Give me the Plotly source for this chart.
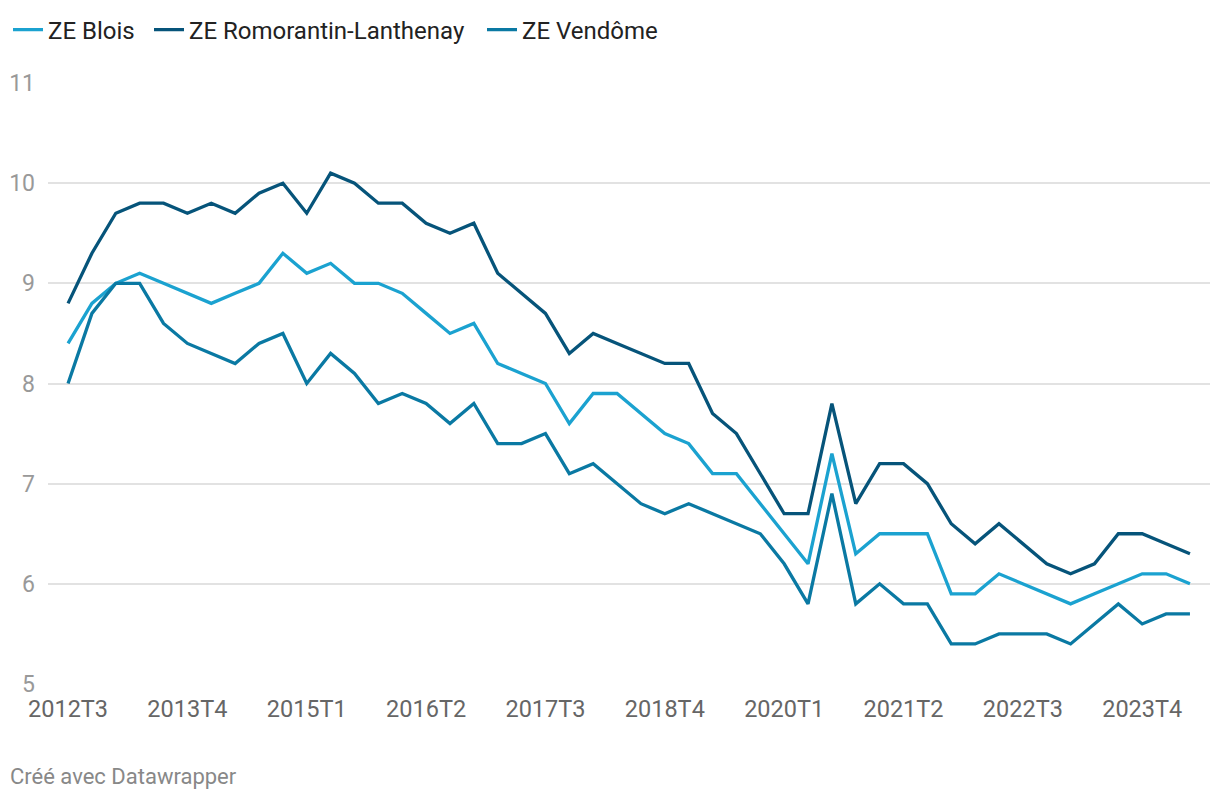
import plotly.graph_objects as go

# Quarters 2012T3 .. 2024T2
quarters = []
for y in range(2012, 2025):
    for q in range(1, 5):
        if (y == 2012 and q < 3) or (y == 2024 and q > 2):
            continue
        quarters.append(f"{y}T{q}")

blois = [8.4, 8.8, 9.0, 9.1, 9.0, 8.9, 8.8, 8.9, 9.0, 9.3, 9.1, 9.2,
         9.0, 9.0, 8.9, 8.7, 8.5, 8.6, 8.2, 8.1, 8.0, 7.6, 7.9,
         7.9, 7.7, 7.5, 7.4, 7.1, 7.1, 6.8, 6.5, 6.2, 7.3, 6.3,
         6.5, 6.5, 6.5, 5.9, 5.9, 6.1, 6.0, 5.9, 5.8, 5.9, 6.0, 6.1, 6.1, 6.0]
romorantin = [8.8, 9.3, 9.7, 9.8, 9.8, 9.7, 9.8, 9.7, 9.9, 10.0, 9.7, 10.1,
              10.0, 9.8, 9.8, 9.6, 9.5, 9.6, 9.1, 8.9, 8.7, 8.3, 8.5,
              8.4, 8.3, 8.2, 8.2, 7.7, 7.5, 7.1, 6.7, 6.7, 7.8, 6.8,
              7.2, 7.2, 7.0, 6.6, 6.4, 6.6, 6.4, 6.2, 6.1, 6.2, 6.5, 6.5, 6.4, 6.3]
vendome = [8.0, 8.7, 9.0, 9.0, 8.6, 8.4, 8.3, 8.2, 8.4, 8.5, 8.0, 8.3,
           8.1, 7.8, 7.9, 7.8, 7.6, 7.8, 7.4, 7.4, 7.5, 7.1, 7.2,
           7.0, 6.8, 6.7, 6.8, 6.7, 6.6, 6.5, 6.2, 5.8, 6.9, 5.8,
           6.0, 5.8, 5.8, 5.4, 5.4, 5.5, 5.5, 5.5, 5.4, 5.6, 5.8, 5.6, 5.7, 5.7]

series_names = ["ZE Blois", "ZE Romorantin-Lanthenay", "ZE Vendôme"]
series_values = [blois, romorantin, vendome]
colors = ["#1ba2d0", "#06547a", "#0a79a3"]
legend_ids = ["legend", "legend2", "legend3"]
legend_px = [10, 155, 488]  # left edge of each legend swatch (page pixels)

x_tick_labels = quarters[::5]
y_tick_values = [5, 6, 7, 8, 9, 10, 11]

W, H = 1220, 800
OFF = 8  # page body margin of the html
ML, MR, MT, MB = 40, 18, 75, 124
plot_left = OFF + ML
plot_w = W - ML - MR
plot_bottom = OFF + H - MB
plot_h = H - MT - MB

fig = go.Figure()
for name, vals, col, lg in zip(series_names, series_values, colors, legend_ids):
    fig.add_trace(go.Scatter(
        x=quarters, y=vals, mode="lines", name=name, legend=lg,
        line=dict(color=col, width=3.3), hoverinfo="x+y+name",
    ))

legend_common = dict(
    orientation="h", xref="container", xanchor="left",
    yref="container", y=1 - (30 - OFF) / H, yanchor="middle",
    font=dict(size=24, color="#222"), itemwidth=30,
    bgcolor="rgba(0,0,0,0)",
)
legends = {}
for lg, px in zip(legend_ids, legend_px):
    legends[lg] = dict(legend_common, x=(px - OFF - 6) / W)

fig.update_layout(
    width=W, height=H,
    margin=dict(l=ML, r=MR, t=MT, b=MB, autoexpand=False),
    paper_bgcolor="white", plot_bgcolor="white",
    font=dict(family="Roboto", color="#333"),
    showlegend=True,
    xaxis=dict(
        type="category", range=[-0.84, 47.84], automargin=False,
        tickmode="array", tickvals=x_tick_labels, ticktext=x_tick_labels,
        showgrid=False, showline=False, zeroline=False, ticks="",
        tickfont=dict(size=23.5, color="#666"),
        ticklabelstandoff=8,
    ),
    yaxis=dict(
        range=[5, 11], tickvals=y_tick_values, automargin=False,
        showgrid=True, gridcolor="#e2e2e2", gridwidth=1.5,
        zeroline=False, showline=False, ticks="",
        tickfont=dict(size=23, color="#999"),
        ticklabelstandoff=12,
    ),
    annotations=[dict(
        text="Créé avec Datawrapper", xref="paper", yref="paper",
        x=(8 - plot_left) / plot_w, y=-(776 - plot_bottom) / plot_h,
        xanchor="left", yanchor="middle",
        showarrow=False, font=dict(size=22, color="#888"),
    )],
    **legends,
)

fig.write_html("out.html")
